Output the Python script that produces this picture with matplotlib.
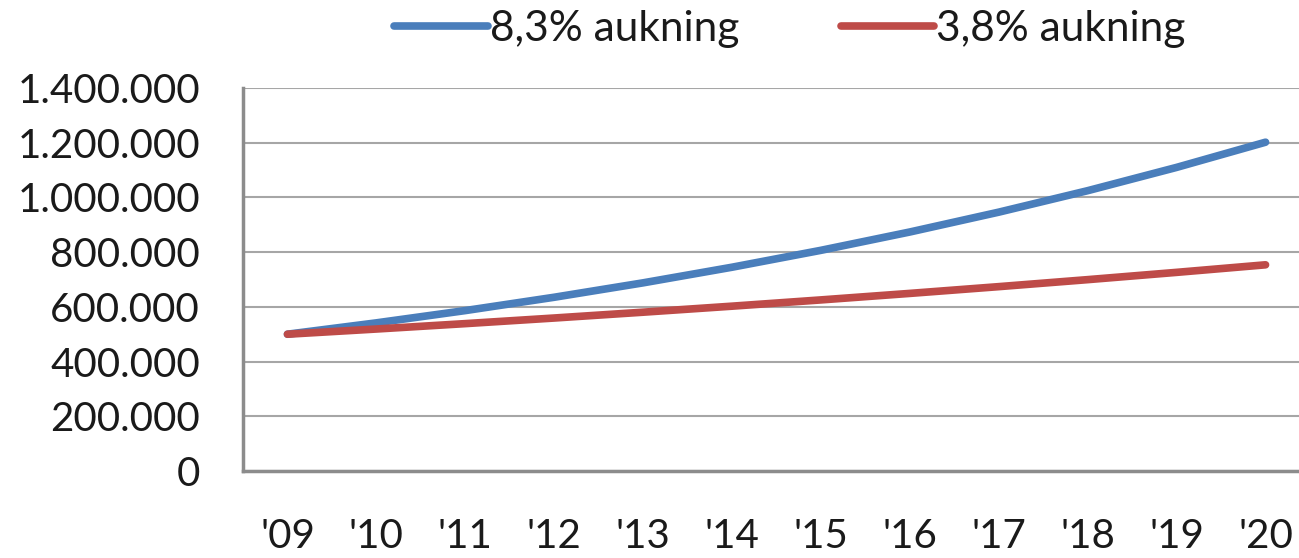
import matplotlib
matplotlib.use("Agg")
import matplotlib.pyplot as plt
from matplotlib.ticker import FuncFormatter

years = ["'09", "'10", "'11", "'12", "'13", "'14", "'15", "'16", "'17", "'18", "'19", "'20"]
high_growth = [500000, 541500, 586400, 635100, 687800, 744900, 806700, 873700, 946200, 1024700, 1109800, 1201900]
low_growth = [500000, 519000, 538700, 559200, 580500, 602500, 625400, 649200, 673900, 699500, 726100, 753700]
series_labels = ["8,3% aukning", "3,8% aukning"]

plt.rcParams["font.family"] = ["Lato", "DejaVu Sans"]

fig = plt.figure(figsize=(12.99, 5.58), dpi=100)
ax = fig.add_axes([243 / 1299, 1 - 471 / 558, 1067 / 1299, 383 / 558])

x = list(range(len(years)))
ax.plot(x, high_growth, color="#4a7ebb", lw=5.5, solid_capstyle="round", label=series_labels[0])
ax.plot(x, low_growth, color="#be4b48", lw=5.5, solid_capstyle="round", label=series_labels[1])

ax.set_xlim(-0.5, 11.5)
ax.set_ylim(0, 1400000)
ax.set_yticks(range(0, 1400001, 200000))
ax.yaxis.set_major_formatter(FuncFormatter(lambda v, p: f"{int(v):,}".replace(",", ".")))
ax.set_xticks(x)
ax.set_xticklabels(years)
ax.grid(axis="y", color="#a6a6a6", lw=1.5)
ax.set_axisbelow(True)
for s in ["top", "right"]:
    ax.spines[s].set_visible(False)
for s in ["left", "bottom"]:
    ax.spines[s].set_color("#8c8c8c")
    ax.spines[s].set_linewidth(2.5)
ax.tick_params(axis="y", length=0, pad=31, labelsize=29, labelcolor="#1a1a1a")
ax.tick_params(axis="x", length=0, pad=34, labelsize=29, labelcolor="#1a1a1a")

fig.legend(loc="upper center", bbox_to_anchor=(790 / 1299, 1.05), ncol=2, frameon=False,
           fontsize=30.5, handlelength=2.2, handletextpad=0.05, columnspacing=2.4,
           labelcolor="#1a1a1a")

fig.savefig("out.png", dpi=100)
